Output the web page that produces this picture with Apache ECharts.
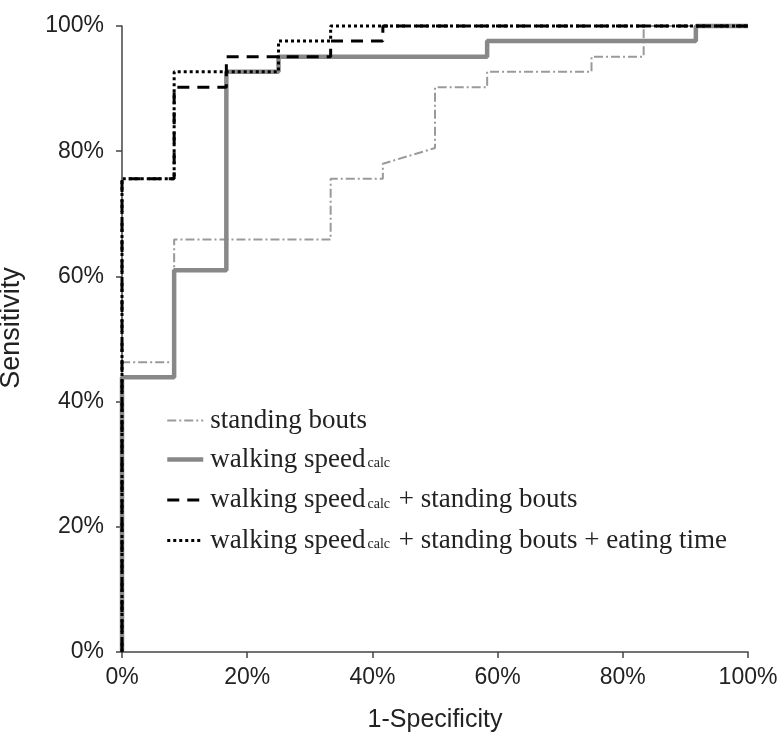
<!DOCTYPE html>
<html>
<head>
<meta charset="utf-8">
<script src="https://cdn.jsdelivr.net/npm/echarts@6/dist/echarts.min.js"></script>
<style>
html,body{margin:0;padding:0;background:#fff;}
#chart{width:778px;height:734px;}
</style>
</head>
<body>
<div id="chart"></div>
<script>
// ROC curve points: 1-Specificity (%) and Sensitivity (%)
const standingX = [0, 0, 8.33, 8.33, 33.33, 33.33, 41.67, 41.67, 50, 50, 58.33, 58.33, 75, 75, 83.33, 83.33, 100];
const standingY = [0, 46.3, 46.3, 65.9, 65.9, 75.6, 75.6, 78.0, 80.5, 90.2, 90.2, 92.7, 92.7, 95.1, 95.1, 100, 100];

const walkingX = [0, 0, 8.33, 8.33, 16.67, 16.67, 25, 25, 58.33, 58.33, 91.67, 91.67, 100];
const walkingY = [0, 43.9, 43.9, 61.0, 61.0, 92.7, 92.7, 95.1, 95.1, 97.6, 97.6, 100, 100];

const walkStandX = [0, 0, 8.33, 8.33, 16.67, 16.67, 33.33, 33.33, 41.67, 41.67, 100];
const walkStandY = [0, 75.6, 75.6, 90.2, 90.2, 95.1, 95.1, 97.6, 97.6, 100, 100];

const allThreeX = [0, 0, 8.33, 8.33, 25, 25, 33.33, 33.33, 100];
const allThreeY = [0, 75.6, 75.6, 92.7, 92.7, 97.6, 97.6, 100, 100];

const xTicks = [0, 20, 40, 60, 80, 100];
const yTicks = [0, 20, 40, 60, 80, 100];

const seriesNames = ['standing bouts', 'walking speed_calc', 'walking speed_calc + standing bouts', 'walking speed_calc + standing bouts + eating time'];
const legendParts = {
  'standing bouts': ['standing bouts', '', ''],
  'walking speed_calc': ['walking speed', 'calc', ''],
  'walking speed_calc + standing bouts': ['walking speed', 'calc', ' + standing bouts'],
  'walking speed_calc + standing bouts + eating time': ['walking speed', 'calc', ' + standing bouts + eating time']
};

const styles = [
  { color: '#9a9a9a', width: 2, type: [9, 3, 2, 3] },
  { color: '#888888', width: 4.5, type: 'solid' },
  { color: '#000000', width: 3, type: [12, 8] },
  { color: '#000000', width: 3, type: [3, 3] }
];

function pairs(xs, ys) { return xs.map((x, i) => [x, ys[i]]); }

const chart = echarts.init(document.getElementById('chart'));
const axisCommon = {
  type: 'value', min: 0, max: 100, interval: 20,
  axisLine: { show: true, lineStyle: { color: '#444', width: 1.5 } },
  axisTick: { show: true, inside: false, length: 6, lineStyle: { color: '#444', width: 1.5 } },
  splitLine: { show: false },
  axisLabel: { formatter: '{value}%', fontFamily: 'Liberation Sans, Arial', fontSize: 23, color: '#222' },
  nameTextStyle: { fontFamily: 'Liberation Sans, Arial', fontSize: 25, color: '#222' }
};

const seriesData = [pairs(standingX, standingY), pairs(walkingX, walkingY), pairs(walkStandX, walkStandY), pairs(allThreeX, allThreeY)];

chart.setOption({
  animation: false,
  backgroundColor: '#fff',
  grid: { left: 122, right: 30, top: 26, bottom: 82, containLabel: false, outerBoundsMode: 'none' },
  xAxis: Object.assign({}, axisCommon, {
    name: '1-Specificity', nameLocation: 'middle', nameGap: 56,
    axisLabel: Object.assign({}, axisCommon.axisLabel, { margin: 14, customValues: xTicks })
  }),
  yAxis: Object.assign({}, axisCommon, {
    name: 'Sensitivity', nameLocation: 'middle', nameGap: 97, nameRotate: 90,
    nameTextStyle: { fontFamily: 'Liberation Sans, Arial', fontSize: 27, color: '#222', padding: [0, 0, 0, 22] },
    axisLabel: Object.assign({}, axisCommon.axisLabel, { margin: 18, customValues: yTicks })
  }),
  legend: {
    orient: 'vertical', left: 160, top: 402, itemWidth: 36, itemHeight: 14, itemGap: 12,
    data: seriesNames.map((n, i) => ({ name: n, lineStyle: Object.assign({}, styles[i]) })),
    itemStyle: { opacity: 0 },
    formatter: function (name) {
      const p = legendParts[name];
      let s = '{a|' + p[0] + '}';
      if (p[1]) s += '{s|' + p[1] + '}';
      if (p[2]) s += '{a|' + p[2] + '}';
      return s;
    },
    textStyle: {
      color: '#222',
      rich: {
        a: { fontFamily: 'Liberation Serif, Times New Roman', fontSize: 27, lineHeight: 30, color: '#222', padding: [0, 0, 0, 2] },
        s: { fontFamily: 'Liberation Serif, Times New Roman', fontSize: 14, lineHeight: 30, color: '#222', verticalAlign: 'bottom', padding: [0, 0, 4, 2] }
      }
    }
  },
  series: seriesNames.map((n, i) => ({
    name: n, type: 'line', data: seriesData[i], symbol: 'none', clip: false,
    lineStyle: styles[i], itemStyle: { color: styles[i].color }, z: 2 + i
  }))
});
</script>
</body>
</html>
